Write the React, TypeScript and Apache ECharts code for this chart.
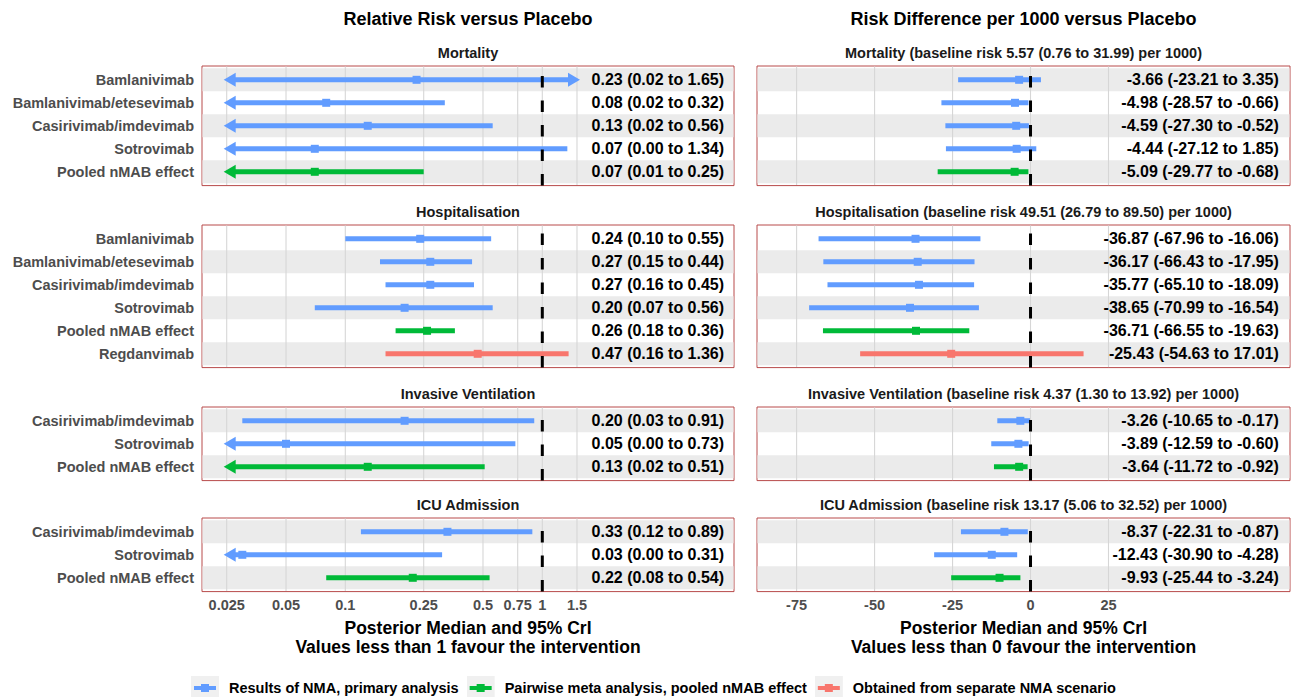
import React, { useEffect, useRef } from "react";
import * as echarts from "echarts";

const FONT = '"Liberation Sans", Arial, Helvetica, sans-serif';

// ---------- data ----------
const outcomeNames = ["Mortality", "Hospitalisation", "Invasive Ventilation", "ICU Admission"];
const baselineRisk = [5.57, 49.51, 4.37, 13.17];
const baselineLow = [0.76, 26.79, 1.3, 5.06];
const baselineHigh = [31.99, 89.5, 13.92, 32.52];

const mortalityTreatments = ["Bamlanivimab", "Bamlanivimab/etesevimab", "Casirivimab/imdevimab", "Sotrovimab", "Pooled nMAB effect"];
const mortalityGroups = ["nma", "nma", "nma", "nma", "pooled"];
const mortalityRR = [0.23, 0.08, 0.13, 0.07, 0.07];
const mortalityRRLow = [0.02, 0.02, 0.02, 0.0, 0.01];
const mortalityRRHigh = [1.65, 0.32, 0.56, 1.34, 0.25];
const mortalityRD = [-3.66, -4.98, -4.59, -4.44, -5.09];
const mortalityRDLow = [-23.21, -28.57, -27.3, -27.12, -29.77];
const mortalityRDHigh = [3.35, -0.66, -0.52, 1.85, -0.68];

const hospTreatments = ["Bamlanivimab", "Bamlanivimab/etesevimab", "Casirivimab/imdevimab", "Sotrovimab", "Pooled nMAB effect", "Regdanvimab"];
const hospGroups = ["nma", "nma", "nma", "nma", "pooled", "separate"];
const hospRR = [0.24, 0.27, 0.27, 0.2, 0.26, 0.47];
const hospRRLow = [0.1, 0.15, 0.16, 0.07, 0.18, 0.16];
const hospRRHigh = [0.55, 0.44, 0.45, 0.56, 0.36, 1.36];
const hospRD = [-36.87, -36.17, -35.77, -38.65, -36.71, -25.43];
const hospRDLow = [-67.96, -66.43, -65.1, -70.99, -66.55, -54.63];
const hospRDHigh = [-16.06, -17.95, -18.09, -16.54, -19.63, 17.01];

const ventTreatments = ["Casirivimab/imdevimab", "Sotrovimab", "Pooled nMAB effect"];
const ventGroups = ["nma", "nma", "pooled"];
const ventRR = [0.2, 0.05, 0.13];
const ventRRLow = [0.03, 0.0, 0.02];
const ventRRHigh = [0.91, 0.73, 0.51];
const ventRD = [-3.26, -3.89, -3.64];
const ventRDLow = [-10.65, -12.59, -11.72];
const ventRDHigh = [-0.17, -0.6, -0.92];

const icuTreatments = ["Casirivimab/imdevimab", "Sotrovimab", "Pooled nMAB effect"];
const icuGroups = ["nma", "nma", "pooled"];
const icuRR = [0.33, 0.03, 0.22];
const icuRRLow = [0.12, 0.0, 0.08];
const icuRRHigh = [0.89, 0.31, 0.54];
const icuRD = [-8.37, -12.43, -9.93];
const icuRDLow = [-22.31, -30.9, -25.44];
const icuRDHigh = [-0.87, -4.28, -3.24];

const rrTicks = [0.025, 0.05, 0.1, 0.25, 0.5, 0.75, 1, 1.5];
const rdTicks = [-75, -50, -25, 0, 25];

const groupNames: Record<string, string> = {
  nma: "Results of NMA, primary analysis",
  pooled: "Pairwise meta analysis, pooled nMAB effect",
  separate: "Obtained from separate NMA scenario",
};
const groupOrder = ["nma", "pooled", "separate"];
const groupColors: Record<string, string> = { nma: "#619CFF", pooled: "#00BA38", separate: "#F8766D" };

// ---------- layout / style ----------
const PANEL_TOPS = [66, 225, 407, 518];
const ROW = 23;
const BAND = "#ebebeb";
const GRIDLINE = "#d6d6d6";
const BORDER = "#b84a4a";
const LINE_W = 5;
const SQ = 8;
const ARROW_L = 12;
const ARROW_H = 7;
const ARROW_OUT = 3;

const panels = [
  { rows: mortalityTreatments, groups: mortalityGroups, rr: [mortalityRR, mortalityRRLow, mortalityRRHigh], rd: [mortalityRD, mortalityRDLow, mortalityRDHigh] },
  { rows: hospTreatments, groups: hospGroups, rr: [hospRR, hospRRLow, hospRRHigh], rd: [hospRD, hospRDLow, hospRDHigh] },
  { rows: ventTreatments, groups: ventGroups, rr: [ventRR, ventRRLow, ventRRHigh], rd: [ventRD, ventRDLow, ventRDHigh] },
  { rows: icuTreatments, groups: icuGroups, rr: [icuRR, icuRRLow, icuRRHigh], rd: [icuRD, icuRDLow, icuRDHigh] },
];

const sides = [
  {
    key: "rr",
    left: 202,
    width: 532,
    xAxis: { type: "log", logBase: 10, min: 0.01873, max: 9.4 },
    ticks: rrTicks,
    refValue: 1,
    clipLo: 0.025,
    clipHi: 1.5,
    textX: 8.37,
    title: "Relative Risk versus Placebo",
    axisTitle2: "Values less than 1 favour the intervention",
    strip: (i: number) => outcomeNames[i],
  },
  {
    key: "rd",
    left: 757,
    width: 533,
    xAxis: { type: "value", min: -87.7, max: 83.2 },
    ticks: rdTicks,
    refValue: 0,
    clipLo: -Infinity,
    clipHi: Infinity,
    textX: 79.6,
    title: "Risk Difference per 1000 versus Placebo",
    axisTitle2: "Values less than 0 favour the intervention",
    strip: (i: number) =>
      `${outcomeNames[i]} (baseline risk ${baselineRisk[i].toFixed(2)} (${baselineLow[i].toFixed(2)} to ${baselineHigh[i].toFixed(2)}) per 1000)`,
  },
];

const fmt = (m: number, l: number, h: number) => `${m.toFixed(2)} (${l.toFixed(2)} to ${h.toFixed(2)})`;

function keyIcon(color: string) {
  const svg =
    `<svg xmlns="http://www.w3.org/2000/svg" width="33" height="24" viewBox="0 0 33 24">` +
    `<rect x="0" y="0" width="28" height="24" fill="#f0f0f0"/>` +
    `<rect x="3" y="10" width="22" height="4" fill="${color}"/>` +
    `<rect x="10" y="8" width="8" height="8" fill="${color}"/></svg>`;
  return "image://data:image/svg+xml;charset=utf-8," + encodeURIComponent(svg);
}

function buildOption() {
  const grid: any[] = [];
  const xAxis: any[] = [];
  const yAxis: any[] = [];
  const series: any[] = [];
  const graphic: any[] = [];

  panels.forEach((p, pi) => {
    const n = p.rows.length;
    const height = (n - 1) * ROW + 1.2 * ROW;
    const top = PANEL_TOPS[pi];
    const isBottom = pi === panels.length - 1;
    sides.forEach((s, si) => {
      const gi = grid.length;
      grid.push({
        left: s.left,
        top,
        width: s.width,
        height,
        show: true,
        backgroundColor: "#ffffff",
        borderColor: BORDER,
        borderWidth: 1,
      });
      xAxis.push({
        gridIndex: gi,
        ...s.xAxis,
        axisLine: { show: false },
        axisTick: { show: false },
        axisLabel: { show: false },
        splitLine: { show: false },
      });
      yAxis.push({
        gridIndex: gi,
        type: "value",
        inverse: true,
        min: 0.4,
        max: n + 0.6,
        axisLine: { show: false },
        axisTick: { show: false },
        splitLine: { show: false },
        axisLabel:
          si === 0
            ? {
                show: true,
                customValues: p.rows.map((_, i) => i + 1),
                formatter: (v: number) => p.rows[Math.round(v) - 1] ?? "",
                color: "#4d4d4d",
                fontSize: 14.5,
                fontWeight: "bold",
                fontFamily: FONT,
                margin: 8,
              }
            : { show: false },
      });

      // background: bands, gridlines, tick labels
      series.push({
        type: "custom",
        xAxisIndex: gi,
        yAxisIndex: gi,
        silent: true,
        z: 1,
        clip: false,
        data: [[s.refValue, 1]],
        renderItem: (params: any, api: any) => {
          const cs = params.coordSys;
          const children: any[] = [];
          for (let i = 1; i <= n; i++) {
            if ((n - i) % 2 === 0) {
              const y1 = api.coord([s.refValue, i - 0.5])[1];
              const y2 = api.coord([s.refValue, i + 0.5])[1];
              children.push({
                type: "rect",
                shape: { x: cs.x + 0.5, y: Math.min(y1, y2), width: cs.width - 1, height: Math.abs(y2 - y1) },
                style: { fill: BAND },
              });
            }
          }
          s.ticks.forEach((t) => {
            const x = api.coord([t, 1])[0];
            children.push({
              type: "line",
              shape: { x1: x, y1: cs.y + 0.5, x2: x, y2: cs.y + cs.height - 0.5 },
              style: { stroke: GRIDLINE, lineWidth: 1.1 },
            });
            if (isBottom) {
              children.push({
                type: "text",
                x,
                y: cs.y + cs.height + 13,
                style: {
                  text: String(t),
                  align: "center",
                  verticalAlign: "middle",
                  fill: "#4d4d4d",
                  fontSize: 14.5,
                  fontWeight: "bold",
                  fontFamily: FONT,
                },
              });
            }
          });
          return { type: "group", children };
        },
      });

      // data series per group
      const vals = s.key === "rr" ? p.rr : p.rd;
      groupOrder.forEach((g) => {
        const data: number[][] = [];
        p.rows.forEach((_, i) => {
          if (p.groups[i] === g) data.push([vals[0][i], i + 1, vals[1][i], vals[2][i]]);
        });
        if (!data.length) return;
        const color = groupColors[g];
        series.push({
          type: "custom",
          name: groupNames[g],
          xAxisIndex: gi,
          yAxisIndex: gi,
          silent: true,
          z: 2,
          clip: false,
          itemStyle: { color },
          data,
          renderItem: (params: any, api: any) => {
            const med = api.value(0);
            const pos = api.value(1);
            const lo = api.value(2);
            const hi = api.value(3);
            const arrowL = lo < s.clipLo;
            const arrowR = hi > s.clipHi;
            const loC = Math.max(lo, s.clipLo);
            const hiC = Math.min(hi, s.clipHi);
            const pLo = api.coord([loC, pos]);
            const pHi = api.coord([hiC, pos]);
            const pMed = api.coord([med, pos]);
            const pText = api.coord([s.textX, pos]);
            const y = pLo[1];
            const tipL = pLo[0] - ARROW_OUT;
            const tipR = pHi[0] + ARROW_OUT;
            const children: any[] = [
              {
                type: "line",
                shape: { x1: arrowL ? tipL + 6 : pLo[0], y1: y, x2: arrowR ? tipR - 6 : pHi[0], y2: y },
                style: { stroke: color, lineWidth: LINE_W, lineCap: "butt" },
              },
            ];
            if (arrowL) {
              children.push({
                type: "polygon",
                shape: { points: [[tipL, y], [tipL + ARROW_L, y - ARROW_H], [tipL + ARROW_L, y + ARROW_H]] },
                style: { fill: color },
              });
            }
            if (arrowR) {
              children.push({
                type: "polygon",
                shape: { points: [[tipR, y], [tipR - ARROW_L, y - ARROW_H], [tipR - ARROW_L, y + ARROW_H]] },
                style: { fill: color },
              });
            }
            children.push({
              type: "rect",
              shape: { x: pMed[0] - SQ / 2, y: y - SQ / 2, width: SQ, height: SQ },
              style: { fill: color },
            });
            children.push({
              type: "text",
              x: pText[0],
              y,
              style: {
                text: fmt(med, lo, hi),
                align: "right",
                verticalAlign: "middle",
                fill: "#000000",
                fontSize: 16,
                fontWeight: "bold",
                fontFamily: FONT,
              },
            });
            return { type: "group", children };
          },
        });
      });

      // reference dashed line
      series.push({
        type: "custom",
        xAxisIndex: gi,
        yAxisIndex: gi,
        silent: true,
        z: 3,
        clip: false,
        data: [[s.refValue, 1]],
        renderItem: (params: any, api: any) => {
          const cs = params.coordSys;
          const x = api.coord([api.value(0), 1])[0];
          return {
            type: "line",
            shape: { x1: x, y1: cs.y + cs.height, x2: x, y2: cs.y },
            style: { stroke: "#000000", lineWidth: 3, lineDash: [11.5, 13], lineCap: "butt" },
          };
        },
      });

      // strip title
      graphic.push({
        type: "text",
        x: s.left + s.width / 2,
        y: top - 13.5,
        style: {
          text: s.strip(pi),
          align: "center",
          verticalAlign: "middle",
          fill: "#1a1a1a",
          fontSize: 14.5,
          fontWeight: "bold",
          fontFamily: FONT,
        },
      });
    });
  });

  sides.forEach((s) => {
    const cx = s.left + s.width / 2;
    graphic.push({
      type: "text",
      x: cx,
      y: 19,
      style: { text: s.title, align: "center", verticalAlign: "middle", fill: "#000", fontSize: 18, fontWeight: "bold", fontFamily: FONT },
    });
    graphic.push({
      type: "text",
      x: cx,
      y: 628,
      style: { text: "Posterior Median and 95% CrI", align: "center", verticalAlign: "middle", fill: "#000", fontSize: 17.5, fontWeight: "bold", fontFamily: FONT },
    });
    graphic.push({
      type: "text",
      x: cx,
      y: 647,
      style: { text: s.axisTitle2, align: "center", verticalAlign: "middle", fill: "#000", fontSize: 17.5, fontWeight: "bold", fontFamily: FONT },
    });
  });

  return {
    animation: false,
    backgroundColor: "#ffffff",
    textStyle: { fontFamily: FONT },
    grid,
    xAxis,
    yAxis,
    series,
    graphic,
    legend: {
      left: 191,
      top: 676,
      padding: 0,
      orient: "horizontal",
      itemWidth: 33,
      itemHeight: 24,
      itemGap: 8,
      selectedMode: false,
      data: groupOrder.map((g) => ({ name: groupNames[g], icon: keyIcon(groupColors[g]) })),
      textStyle: { fontSize: 14.5, fontWeight: "bold", color: "#000", fontFamily: FONT },
    },
  };
}

export default function App() {
  const ref = useRef<HTMLDivElement>(null);
  useEffect(() => {
    if (!ref.current) return;
    const chart = echarts.init(ref.current, null, { renderer: "svg" });
    chart.setOption(buildOption() as any);
    return () => chart.dispose();
  }, []);
  return <div ref={ref} style={{ position: "fixed", left: 0, top: 0, width: 1297, height: 697, background: "#fff" }} />;
}
